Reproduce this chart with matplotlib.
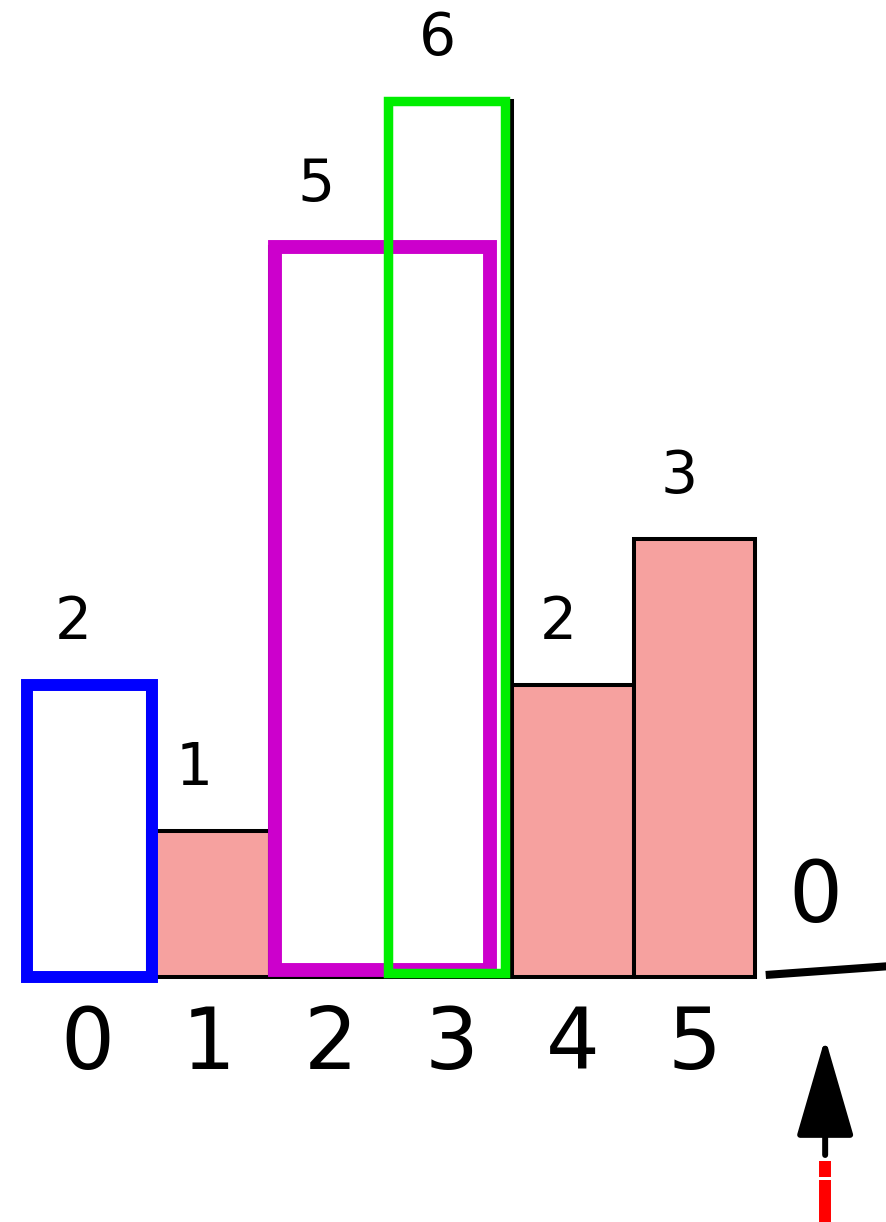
import matplotlib

matplotlib.use('Agg')

import matplotlib.pyplot as plt

# histogram data
heights = [2, 1, 5, 6, 2, 3]
index_labels = ['0', '1', '2', '3', '4', '5']
sentinel_height = 0           # extra bar at the end (i = 6)
filled = [False, True, False, False, True, True]

# highlighted rectangles: (first bar, last bar, colour)
highlights = [(0, 0, '#0000ff'), (2, 3, '#cc00cc'), (3, 3, '#00ee00')]

pink = '#f6a19f'

fig = plt.figure(figsize=(8.86, 12.22), dpi=100)
ax = fig.add_axes([0, 0, 1, 1])
ax.set_xlim(-0.2226, 7.0816)
ax.set_ylim(-1.678, 6.692)
ax.axis('off')

n = len(heights)
xs = list(range(n))

# plain histogram bars
ax.bar(xs, heights, width=1, align='edge',
       color=[pink if f else 'white' for f in filled],
       edgecolor='black', linewidth=2.9, zorder=1)

# highlighted rectangles, drawn slightly inset like the hand drawing
# (left shift, right shift, bottom lift, line width)
hl_style = {
    '#0000ff': (0.0, 0.03, 0.0, 8.6),
    '#cc00cc': (0.045, -0.18, 0.05, 10),
    '#00ee00': (-0.02, -0.06, 0.03, 6.8),
}
for z, (a, b, col) in enumerate(highlights):
    h = min(heights[a:b + 1])
    l, r, bot, lw = hl_style[col]
    left = a + l
    right = b + 1 + r
    ax.bar(left, h - bot, bottom=bot, width=right - left,
           align='edge', fill=False, edgecolor=col,
           linewidth=lw, zorder=2 + z)

# value labels above bars
for i, h in enumerate(heights):
    ax.text(i + 0.5 - 0.12, h + 0.43, str(h), ha='center', va='center',
            fontsize=42, color='black', zorder=10)

# index labels below bars
for i, lab in enumerate(index_labels):
    ax.text(i + 0.5, -0.47, lab, ha='center', va='center',
            fontsize=61, color='black', zorder=10)

# sentinel bar of height 0
ax.text(n + 0.5, sentinel_height + 0.535, str(sentinel_height),
        ha='center', va='center', fontsize=61, color='black')
ax.plot([n + 0.09, n + 1.2], [sentinel_height + 0.014, sentinel_height + 0.08],
        color='black', linewidth=5.8, solid_capstyle='butt')

# pointer i
px = n + 0.58
ax.annotate('', xy=(px, -0.418), xytext=(px, -1.219),
            arrowprops=dict(arrowstyle='-|>,head_length=3.1,head_width=0.9',
                            color='black', lw=4.3, mutation_scale=20,
                            shrinkA=0, shrinkB=0))
ax.plot([px, px], [-1.26, -1.37], color='red', linewidth=8.6, solid_capstyle='butt')
ax.plot([px, px], [-1.39, -1.75], color='red', linewidth=8.6, solid_capstyle='butt')

fig.savefig('out.png', dpi=100, facecolor='white')
